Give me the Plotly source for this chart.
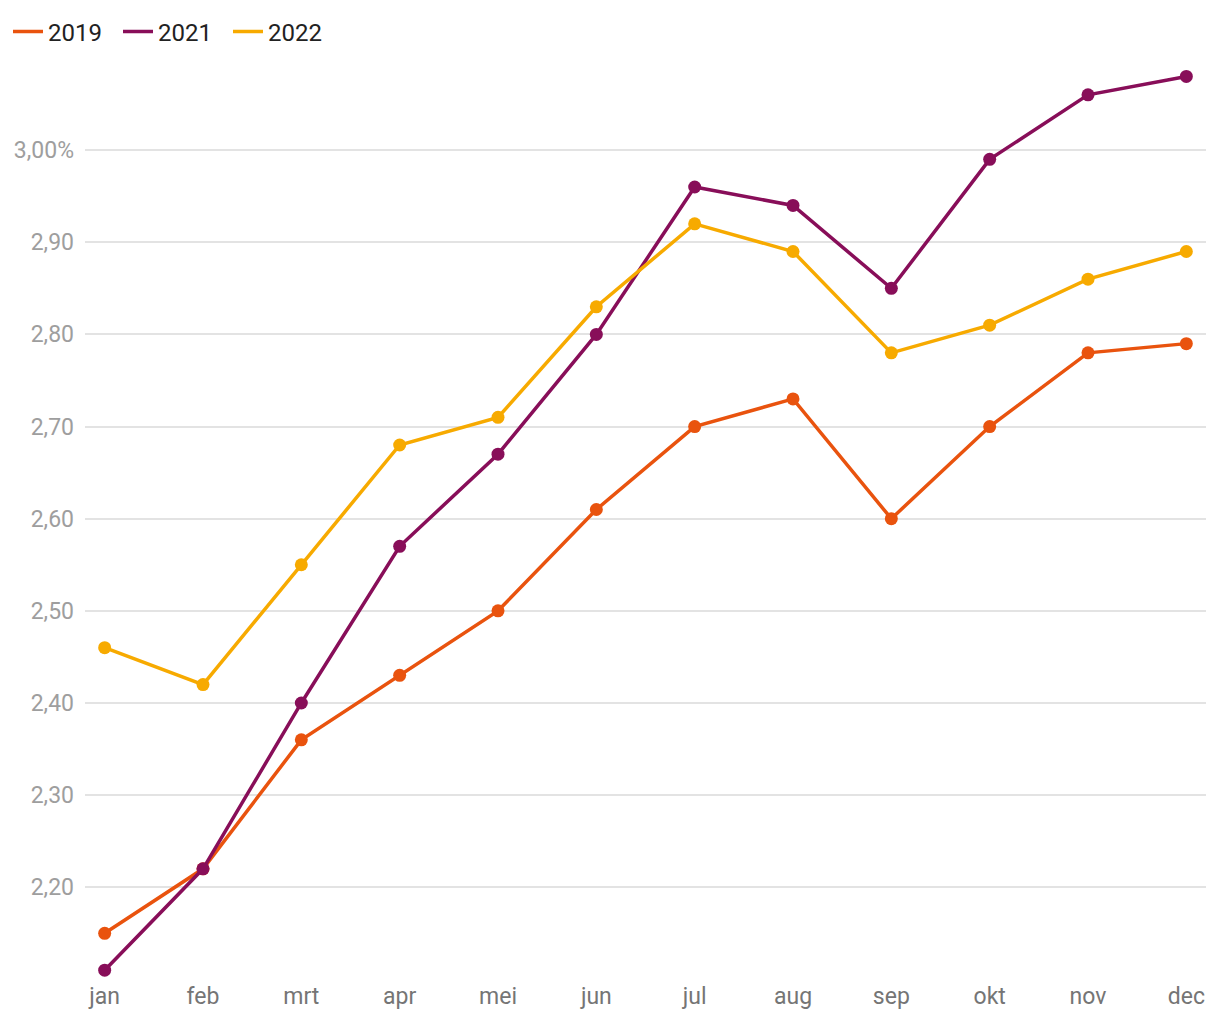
import plotly.graph_objects as go

months = ["jan", "feb", "mrt", "apr", "mei", "jun", "jul", "aug", "sep", "okt", "nov", "dec"]
s2019 = [2.15, 2.22, 2.36, 2.43, 2.50, 2.61, 2.70, 2.73, 2.60, 2.70, 2.78, 2.79]
s2021 = [2.11, 2.22, 2.40, 2.57, 2.67, 2.80, 2.96, 2.94, 2.85, 2.99, 3.06, 3.08]
s2022 = [2.46, 2.42, 2.55, 2.68, 2.71, 2.83, 2.92, 2.89, 2.78, 2.81, 2.86, 2.89]

ytickvals = [2.2, 2.3, 2.4, 2.5, 2.6, 2.7, 2.8, 2.9, 3.0]
yticktext = ["2,20", "2,30", "2,40", "2,50", "2,60", "2,70", "2,80", "2,90", "3,00%"]

series = [("2019", s2019, "#E9530E"), ("2021", s2021, "#880E59"), ("2022", s2022, "#F7AA00")]

fig = go.Figure()
for name, vals, col in series:
    fig.add_trace(go.Scatter(
        x=list(range(len(months))), y=vals, name=name, mode="lines",
        line=dict(color=col, width=3.5),
        legendgroup=name,
    ))
    fig.add_trace(go.Scatter(
        x=list(range(len(months))), y=vals, name=name, mode="markers",
        marker=dict(color=col, size=13),
        legendgroup=name, showlegend=False,
    ))

fig.update_layout(
    width=1212, height=1012,
    margin=dict(l=77, r=14, t=50, b=36, autoexpand=False),
    paper_bgcolor="white", plot_bgcolor="white",
    font=dict(family="Roboto", size=23, color="#222222"),
    separators=",.",
    showlegend=True,
    legend=dict(orientation="h", xref="container", yref="container", x=-3 / 1212, xanchor="left",
                y=1 - 24 / 1012, yanchor="middle",
                font=dict(size=24, color="#222222"), entrywidth=65, entrywidthmode="pixels",
                tracegroupgap=0),
    xaxis=dict(
        range=[-0.2, 11.2], tickmode="array", tickvals=list(range(len(months))), ticktext=months,
        showgrid=False, zeroline=False, showline=False, ticks="", automargin=False,
        tickfont=dict(size=23, color="#757575"), ticklabelstandoff=-4,
    ),
    yaxis=dict(
        range=[2.095, 3.10], tickmode="array", tickvals=ytickvals, ticktext=yticktext,
        showgrid=True, gridcolor="#e3e3e3", gridwidth=1.5, zeroline=False, showline=False, ticks="",
        automargin=False,
        tickfont=dict(size=23, color="#9e9e9e"), ticklabelstandoff=10,
    ),
)

fig.write_html("out.html")
